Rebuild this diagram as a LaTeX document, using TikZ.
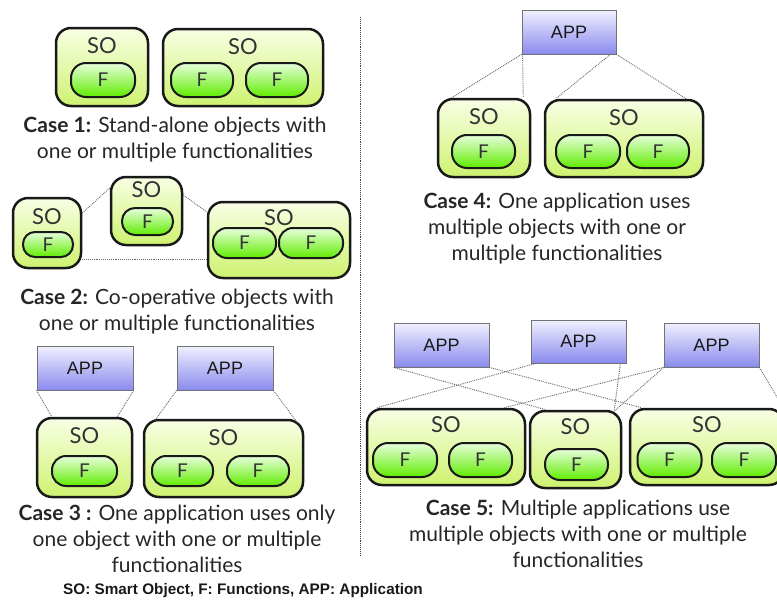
\documentclass[tikz,border=0pt]{standalone}
\usepackage{fontspec}
\setmainfont{Lato}
\newfontfamily\helv{Liberation Sans}
\usetikzlibrary{calc}

\definecolor{soTop}{RGB}{248,255,228}
\definecolor{soBot}{RGB}{206,242,112}
\definecolor{fTop}{RGB}{232,255,220}
\definecolor{fBot}{RGB}{96,236,0}
\definecolor{appTop}{RGB}{240,240,255}
\definecolor{appBot}{RGB}{138,138,238}

\tikzset{
  so/.style={draw=black!90, line width=2.5pt, rounded corners=15pt, top color=soTop, bottom color=soBot, inner sep=0pt},
  sotxt/.style={label={[font=\fontsize{22}{22}\selectfont, text=black!80, anchor=north, inner sep=0pt, yshift=#1]north:SO}},
  sotxt/.default=-11pt,
  fn/.style={draw=black!90, line width=2pt, rounded corners=15pt, top color=fTop, bottom color=fBot, inner sep=0pt, font=\fontsize{19}{19}\selectfont, text=black!80},
  app/.style={draw=black!55, line width=0.8pt, top color=appTop, bottom color=appBot, inner sep=0pt, font=\helv\fontsize{18}{18}\selectfont, text=black!90},
  dotline/.style={densely dotted, line width=0.9pt, black!60},
  caption/.style={align=center, font=\fontsize{21}{26}\selectfont, text=black!85},
}

\begin{document}
\begin{tikzpicture}[x=1pt,y=-1pt]
  \useasboundingbox (0,0) rectangle (777,605);

  % case 1
  \node[so, sotxt, minimum width=92pt, minimum height=78pt] (so1a) at (102,67) {};
  \node[fn, minimum width=64pt, minimum height=34pt] (f1a) at (103,80) {F};
  \node[so, sotxt, minimum width=160pt, minimum height=77pt] (so1b) at (243,67.5) {};
  \node[fn, minimum width=62pt, minimum height=34pt] (f1b1) at (202,80) {F};
  \node[fn, minimum width=62pt, minimum height=34pt] (f1b2) at (277,80) {F};
  \node[caption] (cap1) at (175,140) {\textbf{Case 1:} Stand-alone objects with\\one or multiple functionalities};

  % case 2
  \node[so, sotxt=-12pt, minimum width=68pt, minimum height=70pt] (so2a) at (47,233) {};
  \node[fn, rounded corners=12pt, minimum width=50pt, minimum height=25pt] (f2a) at (48,244.5) {F};
  \node[so, sotxt=-6pt, minimum width=71pt, minimum height=68pt] (so2b) at (146.5,211) {};
  \node[fn, rounded corners=13pt, minimum width=51pt, minimum height=27pt] (f2b) at (147.5,221.5) {F};
  \node[so, sotxt=-9pt, minimum width=142pt, minimum height=76pt] (so2c) at (279,240) {};
  \node[fn, rounded corners=14pt, minimum width=63pt, minimum height=30pt] (f2c1) at (244.5,243) {F};
  \node[fn, rounded corners=14pt, minimum width=64pt, minimum height=30pt] (f2c2) at (311,243) {F};
  \draw[dotline] ([yshift=20pt]so2a.east) -- ([yshift=23pt]so2b.west);
  \draw[dotline] ([yshift=16pt]so2b.east) -- ([yshift=28pt]so2c.west);
  \draw[dotline] ([yshift=-26pt]so2a.east) -- ([yshift=-19pt]so2c.west);
  \node[caption] (cap2) at (177,312) {\textbf{Case 2:} Co-operative objects with\\one or multiple functionalities};

  % case 3
  \node[app, minimum width=96pt, minimum height=44pt] (app3a) at (85,368) {APP};
  \node[app, minimum width=96pt, minimum height=44pt] (app3b) at (225,368) {APP};
  \node[so, sotxt, minimum width=95pt, minimum height=79pt] (so3a) at (84.5,457.5) {};
  \node[fn, minimum width=65pt, minimum height=30pt, rounded corners=14pt] (f3a) at (84.5,471) {F};
  \node[so, sotxt, minimum width=159pt, minimum height=77pt] (so3b) at (223.5,458.5) {};
  \node[fn, minimum width=61pt, minimum height=30pt, rounded corners=14pt] (f3b1) at (182.5,471) {F};
  \node[fn, minimum width=62pt, minimum height=30pt, rounded corners=14pt] (f3b2) at (258,471) {F};
  \draw[dotline] (app3a.south west) -- ([xshift=16pt]so3a.north west);
  \draw[dotline] (app3a.south east) -- ([xshift=-16pt]so3a.north east);
  \draw[dotline] (app3b.south west) -- ([xshift=12pt,yshift=-2pt]so3b.north west);
  \draw[dotline] (app3b.south east) -- ([xshift=-6pt,yshift=-5pt]so3b.north east);
  \node[caption] (cap3) at (177,539) {\textbf{Case 3 :} One application uses only\\one object with one or multiple\\functionalities};

  % separator
  \draw[dotline, black!75] (360.5,17) -- (360.5,555);

  % case 4
  \node[app, minimum width=94pt, minimum height=44pt] (app4) at (569,32) {APP};
  \node[so, sotxt, minimum width=92pt, minimum height=78pt] (so4a) at (484,138) {};
  \node[fn, minimum width=63pt, minimum height=33pt] (f4a) at (483.5,151.5) {F};
  \node[so, sotxt, minimum width=158pt, minimum height=77pt] (so4b) at (624,138.5) {};
  \node[fn, minimum width=64pt, minimum height=33pt] (f4b1) at (588,151.5) {F};
  \node[fn, minimum width=62pt, minimum height=33pt] (f4b2) at (658,151.5) {F};
  \draw[dotline] (app4.south west) -- ([xshift=15pt]so4a.north west);
  \draw[dotline] ([xshift=1pt]app4.south west) -- ([xshift=-8pt]so4a.north east);
  \draw[dotline] ([xshift=-6pt]app4.south east) -- ([xshift=12pt]so4b.north west);
  \draw[dotline] (app4.south east) -- ([xshift=-18pt]so4b.north east);
  \node[caption] (cap4) at (557,229) {\textbf{Case 4:} One application uses\\multiple objects with one or\\multiple functionalities};

  % case 5
  \node[app, minimum width=95pt, minimum height=44pt] (app5a) at (441.5,345) {APP};
  \node[app, minimum width=95pt, minimum height=43pt] (app5b) at (578.5,341.5) {APP};
  \node[app, minimum width=95pt, minimum height=44pt] (app5c) at (711.5,345) {APP};
  \node[so, sotxt=-9pt, minimum width=158pt, minimum height=76pt] (so5a) at (446,447) {};
  \node[fn, minimum width=64pt, minimum height=34pt] (f5a1) at (405,460) {F};
  \node[fn, minimum width=63pt, minimum height=34pt] (f5a2) at (480.5,460) {F};
  \node[so, sotxt=-9pt, minimum width=91pt, minimum height=77pt] (so5b) at (575.5,449.5) {};
  \node[fn, minimum width=63pt, minimum height=31pt] (f5b) at (576.5,464.5) {F};
  \node[so, sotxt=-9pt, minimum width=154pt, minimum height=76pt] (so5c) at (707,447) {};
  \node[fn, minimum width=64pt, minimum height=34pt] (f5c1) at (669.5,460) {F};
  \node[fn, minimum width=64pt, minimum height=34pt] (f5c2) at (744,460) {F};
  \draw[dotline] (app5a.south west) -- ([xshift=17pt]so5b.north west);
  \draw[dotline] (app5a.south east) -- ([xshift=13pt]so5c.north west);
  \draw[dotline] ([xshift=5pt]app5b.south west) -- ([xshift=11pt]so5a.north west);
  \draw[dotline] ([xshift=-6pt]app5b.south east) -- ([xshift=-8pt]so5b.north east);
  \draw[dotline] (app5c.south west) -- ([xshift=-22pt]so5a.north east);
  \draw[dotline] (app5c.south west) -- ([xshift=-11pt,yshift=-4pt]so5b.north east);
  \draw[dotline] (app5c.south east) -- ([xshift=-2pt]so5c.north east);
  \node[caption] (cap5) at (578,534) {\textbf{Case 5:} Multiple applications use\\multiple objects with one or multiple\\functionalities};

  % legend
  \node[font=\helv\bfseries\fontsize{15.3}{15.3}\selectfont, text=black!90] (legend) at (243,591) {SO: Smart Object, F: Functions, APP: Application};
\end{tikzpicture}
\end{document}
